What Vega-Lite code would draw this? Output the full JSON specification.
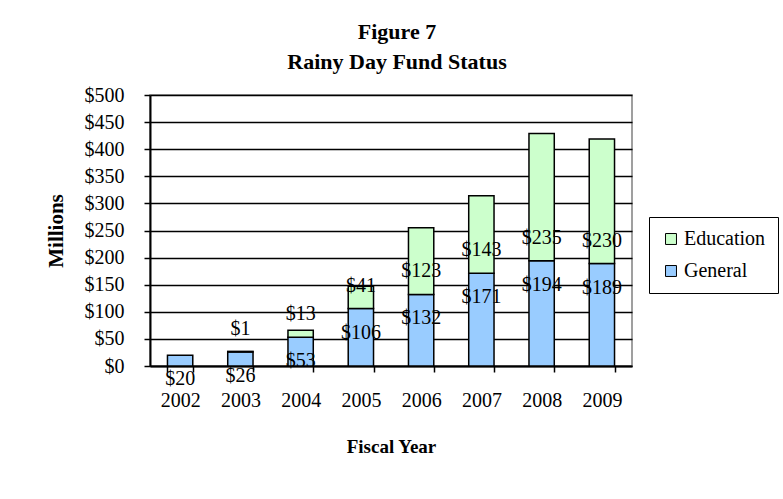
{
  "$schema": "https://vega.github.io/schema/vega-lite/v6.json",
  "width": 482,
  "height": 271,
  "autosize": {"type": "none"},
  "padding": {"left": 150, "top": 95, "right": 151, "bottom": 133},
  "background": "white",
  "config": {
    "font": "Liberation Serif",
    "view": {"stroke": "#808080", "strokeWidth": 1.5},
    "axis": {
      "labelFont": "Liberation Serif",
      "titleFont": "Liberation Serif",
      "labelColor": "black",
      "titleColor": "black",
      "domainColor": "black",
      "tickColor": "black",
      "titleFontWeight": "bold",
      "labelFontSize": 20,
      "tickWidth": 1.5,
      "domainWidth": 2
    },
    "axisX": {
      "titleFontSize": 19, "titlePadding": 27,
      "labelAngle": 0, "labelPadding": 18,
      "tickSize": 6, "tickBand": "extent", "grid": false
    },
    "axisY": {
      "titleFontSize": 21, "titlePadding": 18,
      "tickCount": 10,
      "format": "$,.0f",
      "labelPadding": 20, "labelOverlap": false,
      "tickSize": 6,
      "grid": true, "gridColor": "black", "gridWidth": 1.5
    }
  },
  "title": {
    "text": ["Figure 7", "Rainy Day Fund Status"],
    "font": "Liberation Serif",
    "fontSize": 22,
    "fontWeight": "bold",
    "color": "black",
    "anchor": "middle",
    "dx": 6,
    "offset": 11,
    "lineHeight": 30
  },
  "data": {
    "values": [
      {"year": "2002", "series": "General", "value": 20},
      {"year": "2003", "series": "General", "value": 26},
      {"year": "2004", "series": "General", "value": 53},
      {"year": "2005", "series": "General", "value": 106},
      {"year": "2006", "series": "General", "value": 132},
      {"year": "2007", "series": "General", "value": 171},
      {"year": "2008", "series": "General", "value": 194},
      {"year": "2009", "series": "General", "value": 189},
      {"year": "2003", "series": "Education", "value": 1},
      {"year": "2004", "series": "Education", "value": 13},
      {"year": "2005", "series": "Education", "value": 41},
      {"year": "2006", "series": "Education", "value": 123},
      {"year": "2007", "series": "Education", "value": 143},
      {"year": "2008", "series": "Education", "value": 235},
      {"year": "2009", "series": "Education", "value": 230}
    ]
  },
  "transform": [
    {"stack": "value", "groupby": ["year"], "sort": [{"field": "series", "order": "descending"}], "as": ["v0", "v1"]}
  ],
  "layer": [
    {
      "mark": {"type": "bar", "stroke": "black", "strokeWidth": 1.5},
      "encoding": {
        "x": {
          "field": "year", "type": "ordinal", "title": "Fiscal Year",
          "scale": {"paddingInner": 0.58, "paddingOuter": 0.29}
        },
        "y": {
          "field": "v0", "type": "quantitative", "title": "Millions",
          "scale": {"domain": [0, 500], "nice": false}
        },
        "y2": {"field": "v1"},
        "color": {
          "field": "series", "type": "nominal",
          "scale": {"domain": ["Education", "General"], "range": ["#CCFFCC", "#99CCFF"]},
          "legend": {
            "title": null,
            "orient": "none",
            "legendX": 499,
            "legendY": 122,
            "strokeColor": "black",
            "padding": 12,
            "symbolType": "square",
            "symbolSize": 120,
            "symbolStrokeColor": "black",
            "symbolStrokeWidth": 1,
            "labelFont": "Liberation Serif",
            "labelFontSize": 20,
            "labelColor": "black",
            "labelOffset": 3,
            "rowPadding": 12
          }
        }
      }
    },
    {
      "transform": [{"filter": "datum.series == 'General'"}],
      "mark": {"type": "text", "dy": 24, "fontSize": 20, "font": "Liberation Serif", "fill": "black", "baseline": "middle"},
      "encoding": {
        "x": {"field": "year", "type": "ordinal", "title": "Fiscal Year"},
        "y": {"field": "v1", "type": "quantitative", "title": "Millions"},
        "text": {"field": "value", "type": "quantitative", "format": "$,.0f"}
      }
    },
    {
      "transform": [{"filter": "datum.series == 'Education'"}],
      "mark": {"type": "text", "dy": -23, "fontSize": 20, "font": "Liberation Serif", "fill": "black", "baseline": "middle"},
      "encoding": {
        "x": {"field": "year", "type": "ordinal", "title": "Fiscal Year"},
        "y": {"field": "v0", "type": "quantitative", "title": "Millions"},
        "text": {"field": "value", "type": "quantitative", "format": "$,.0f"}
      }
    }
  ]
}
